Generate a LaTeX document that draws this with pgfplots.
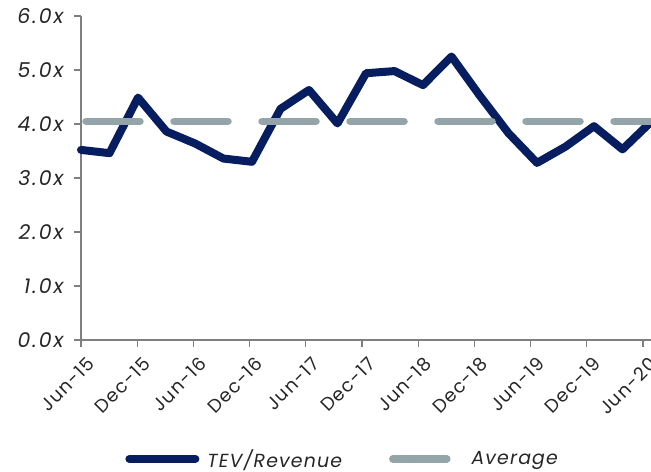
\documentclass[border=0pt]{standalone}
\usepackage{pgfplots}
\pgfplotsset{compat=1.18}
\usepackage{fontspec}
\setmainfont{Poppins}[LetterSpace=6]
\definecolor{tevnavy}{HTML}{061D5F}
\definecolor{avggray}{HTML}{93A5A8}
\definecolor{axisgray}{HTML}{7F7F7F}
\definecolor{labelgray}{HTML}{262626}

\begin{document}
\begin{tikzpicture}
% page = 651 x 472, axis box at (81..651, 16..340)
\path[use as bounding box] (-81bp,-132bp) rectangle (570bp,340bp);
\begin{axis}[
    at={(0,0)}, anchor=south west,
    scale only axis,
    width=570bp, height=324bp,
    xmin=0, xmax=20, ymin=0, ymax=6,
    axis x line*=bottom, axis y line*=left,
    axis line style={axisgray, line width=1.3pt},
    tick align=outside,
    major tick length=7bp,
    tick style={axisgray, line width=1.1pt},
    ytick={0,1,2,3,4,5,6},
    yticklabels={0.0x,1.0x,2.0x,3.0x,4.0x,5.0x,6.0x},
    y tick label style={font=\fontsize{20.5}{20.5}\selectfont\itshape\addfontfeatures{LetterSpace=10}, text=labelgray, xshift=-7bp},
    xtick={0,1.972,3.944,5.916,7.888,9.86,11.832,13.804,15.776,17.748,19.72},
    xticklabels={Jun-15,Dec-15,Jun-16,Dec-16,Jun-17,Dec-17,Jun-18,Dec-18,Jun-19,Dec-19,Jun-20},
    x tick label style={font=\fontsize{18.5}{18.5}\selectfont, text=labelgray, xshift=5bp, yshift=-4bp, rotate=45, anchor=north east},
    legend style={at={(0.459,-0.367)}, anchor=center, draw=none, fill=none,
        legend columns=2, font=\fontsize{19}{19}\selectfont\itshape, text=labelgray,
        /tikz/every even column/.append style={column sep=40bp}},
    legend image code/.code={\draw[#1] (0bp,0bp) -- (66bp,0bp);},
    clip=false,
]
\addplot[tevnavy, line width=8bp, line join=round, line cap=round] coordinates {
    (0,3.52) (1,3.46) (2,4.49) (3,3.86) (4,3.64) (5,3.36) (6,3.30)
    (7,4.28) (8,4.63) (9,4.01) (10,4.94) (11,4.98) (12,4.72) (13,5.25)
    (14,4.52) (15,3.83) (16,3.28) (17,3.58) (18,3.96) (19,3.53) (20,4.04)
};
\addlegendentry{\hspace{6bp}TEV/Revenue}
\addplot[avggray, line width=7.5bp, line cap=round, dash pattern=on 54bp off 34bp, dash phase=83bp] coordinates {
    (0,4.05) (20,4.05)
};
\addlegendentry{\hspace{12bp}Average}
\end{axis}
\end{tikzpicture}
\end{document}
